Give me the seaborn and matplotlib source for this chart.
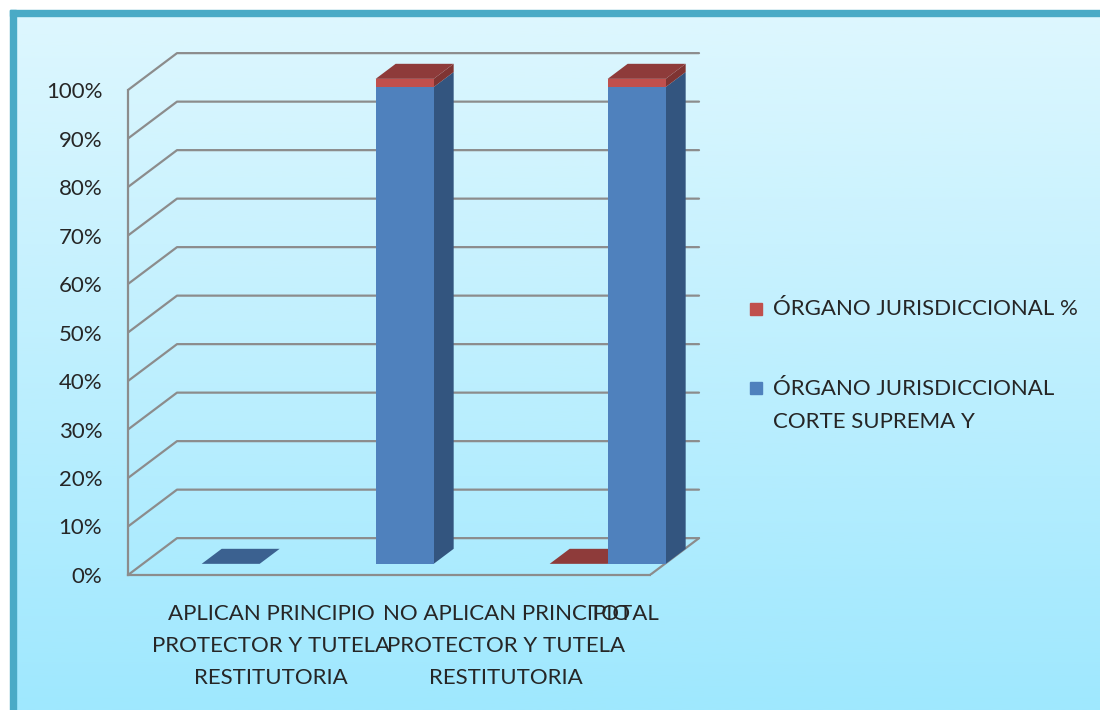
import numpy as np
import matplotlib
matplotlib.use("Agg")
import matplotlib.pyplot as plt
from matplotlib.patches import Polygon, Rectangle
import seaborn as sns

# data
categories = [
    "APLICAN PRINCIPIO\nPROTECTOR Y TUTELA\nRESTITUTORIA",
    "NO APLICAN PRINCIPIO\nPROTECTOR Y TUTELA\nRESTITUTORIA",
    "TOTAL",
]
label_slots = [2.47, 6.52, 8.55]
bar_slots = [1, 4, 7, 8]
corte_suprema = [0.0, 98.3, np.nan, 98.3]   # blue series, %
organo_pct = [np.nan, 1.7, 0.0, 1.7]        # red series, %
series_names = ["ÓRGANO JURISDICCIONAL %", "ÓRGANO JURISDICCIONAL\nCORTE SUPREMA Y"]
y_ticks = list(range(0, 101, 10))
n_slots = 9

BLUE, BLUE_TOP, BLUE_SIDE = "#4f81bd", "#3b6190", "#33557f"
RED, RED_TOP, RED_SIDE = "#c0504d", "#8e3b3a", "#7f3432"
GRID = "#8c8c8c"

# fake 3d geometry (data units)
WDX, WDY = 0.845, 7.6      # wall depth
BDX, BDY = 0.345, 3.1      # bar depth
FLOOR_Y, BAR_SHIFT, BAR_W = 2.3, 0.27, 1.0

W, H = 1100, 710
sns.set_style("white")
plt.rcParams["font.family"] = ["Lato", "DejaVu Sans"]
plt.rcParams["font.size"] = 16

fig = plt.figure(figsize=(W / 100, H / 100), dpi=100)


def fx(px):
    return px / W


def fy(py):
    return 1 - py / H


# background with gradient and teal frame
bg = fig.add_axes([0, 0, 1, 1], zorder=-10)
bg.set_xlim(0, W)
bg.set_ylim(H, 0)
bg.axis("off")
top_c = np.array(matplotlib.colors.to_rgb("#def7fe"))
bot_c = np.array(matplotlib.colors.to_rgb("#9fe8fe"))
t = np.linspace(0, 1, 256)[:, None, None]
grad = top_c * (1 - t) + bot_c * t
bg.imshow(grad, extent=(10, W, H, 10), aspect="auto")
bg.add_patch(Rectangle((10, 10), W - 10, 6, color="#4aaac6"))
bg.add_patch(Rectangle((10, 10), 6, H - 10, color="#4aaac6"))

# main axes: 1 slot = 58 px, 1 % = 4.85 px
ax = fig.add_axes([fx(128), fy(575), 582 / W, 525 / H])
ax.set_facecolor("none")
ax.set_xlim(0, 582 / 58)
ax.set_ylim(0, 525 / 4.85)

# walls
for v in y_ticks:
    ax.plot([0, WDX, n_slots + WDX], [v, v + WDY, v + WDY], color=GRID, lw=1.6, zorder=1)
ax.plot([n_slots, n_slots + WDX], [0, WDY], color=GRID, lw=1.6, zorder=1)

# front faces
centers = np.array(bar_slots) + BAR_SHIFT + BAR_W / 2
blue_h = np.nan_to_num(corte_suprema)
red_h = np.nan_to_num(organo_pct)
sns.barplot(x=centers, y=blue_h, native_scale=True, width=BAR_W, color=BLUE,
            saturation=1, bottom=FLOOR_Y, linewidth=0, ax=ax, zorder=5)
sns.barplot(x=centers, y=red_h, native_scale=True, width=BAR_W, color=RED,
            saturation=1, bottom=FLOOR_Y + blue_h, linewidth=0, ax=ax, zorder=5)

# sides and tops
for i, s in enumerate(bar_slots):
    x0 = s + BAR_SHIFT
    x1 = x0 + BAR_W
    base = FLOOR_Y
    top_col = None
    for val, side_col, tcol in [(corte_suprema[i], BLUE_SIDE, BLUE_TOP),
                                (organo_pct[i], RED_SIDE, RED_TOP)]:
        if np.isnan(val):
            continue
        y1 = base + val
        if val > 0:
            ax.add_patch(Polygon([(x1, base), (x1 + BDX, base + BDY), (x1 + BDX, y1 + BDY), (x1, y1)],
                                 closed=True, facecolor=side_col, edgecolor="none", zorder=4))
        base = y1
        top_col = tcol
    ax.add_patch(Polygon([(x0, base), (x1, base), (x1 + BDX, base + BDY), (x0 + BDX, base + BDY)],
                         closed=True, facecolor=top_col, edgecolor="none", zorder=4))

# axes lines and ticks
for side in ["top", "right"]:
    ax.spines[side].set_visible(False)
for side in ["left", "bottom"]:
    ax.spines[side].set_color(GRID)
    ax.spines[side].set_linewidth(1.6)
    ax.spines[side].set_zorder(2)
ax.spines["left"].set_bounds(0, 100)
ax.spines["bottom"].set_bounds(0, n_slots)
ax.set_yticks(y_ticks, [f"{v}%" for v in y_ticks])
ax.set_xticks(range(n_slots + 1), [""] * (n_slots + 1))
ax.set_xticks(label_slots, categories, minor=True)
ax.tick_params(axis="y", length=4.5, width=1.6, color=GRID, pad=14, labelsize=16)
ax.tick_params(axis="x", which="major", length=6, width=1.6, color=GRID, direction="out")
ax.tick_params(axis="x", which="minor", length=0, pad=21, labelsize=16)
for lab in ax.get_xticklabels(minor=True):
    lab.set_linespacing(1.75)
ax.set_xlabel("")
ax.set_ylabel("")

# legend
fig.patches.append(Rectangle((fx(750), fy(315)), 12 / W, 12 / H, color=RED, transform=fig.transFigure))
fig.text(fx(773), fy(309), series_names[0], va="center", ha="left", fontsize=16)
fig.patches.append(Rectangle((fx(750), fy(394)), 12 / W, 12 / H, color=BLUE, transform=fig.transFigure))
fig.text(fx(773), fy(379), series_names[1], va="top", ha="left", fontsize=16, linespacing=1.8)

fig.savefig("out.png", dpi=100)
